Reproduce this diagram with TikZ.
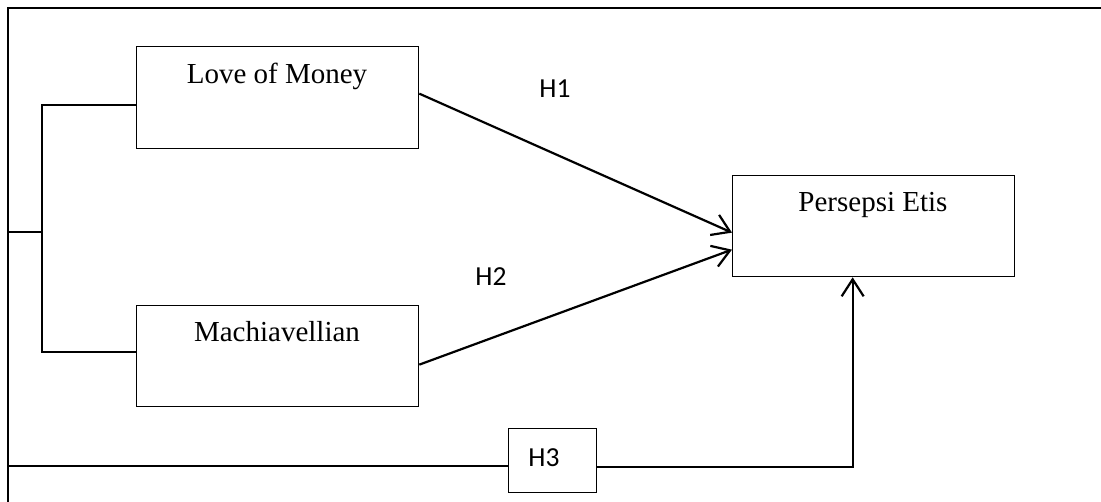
\documentclass[tikz,border=0pt]{standalone}
\usepackage{fontspec}
\setmainfont{Liberation Serif}
\newfontfamily\calib{Carlito}
\usetikzlibrary{arrows.meta,calc}
\begin{document}
\begin{tikzpicture}[x=1pt,y=-1pt,
  box/.style={draw,line width=1.3pt,minimum width=282pt,minimum height=102pt,inner sep=0pt,anchor=north west},
  boxtext/.style={font=\fontsize{29}{30}\selectfont,anchor=base,inner sep=0pt},
  hlabel/.style={font=\calib\fontsize{27.5}{30}\selectfont,anchor=base,inner sep=0pt},
  conn/.style={line width=2.2pt},
  arr/.style={conn,-{Straight Barb[length=17pt,width=22pt,line width=2.2pt]}}
]
\useasboundingbox (0,0) rectangle (1101,502);
% outer frame
\coordinate (tr) at (1101,8);
\coordinate (tl) at (8,8);
\coordinate (bl) at (8,502);
\draw[line width=2.3pt] (tr) -- (tl) -- (bl);
% boxes
\node[box] (lom) at (136,46) {};
\node[box,minimum height=101pt] (mach) at (136,305) {};
\node[box,minimum height=101pt] (pe) at (732,175) {};
\node[draw,line width=1.3pt,minimum width=88pt,minimum height=64pt,inner sep=0pt,anchor=north west] (h3box) at (508,428) {};
% texts
\node[boxtext] (lomt) at (277,84) {Love of Money};
\node[boxtext] (macht) at (277,342) {Machiavellian};
\node[boxtext] (pet) at (873,212) {Persepsi Etis};
\node[hlabel] (h1) at (555,98) {H1};
\node[hlabel] (h2) at (491,286) {H2};
\node[hlabel] (h3) at (544,467) {H3};
% left bracket
\coordinate (lj) at (8,232);
\coordinate (bj) at (42,232);
\draw[conn] ([yshift=-7pt]lom.west) -| (bj) |- ([yshift=4.5pt]mach.west);
\draw[conn] (lj) -- (bj);
% arrows
\draw[arr] ([yshift=4pt]lom.east) -- ([yshift=-6.5pt]pe.west);
\draw[arr] ([yshift=-8.5pt]mach.east) -- ([yshift=-23.5pt]pe.west);
% bottom path
\coordinate (bs) at (8,466);
\draw[conn] (bs) -- (bs -| h3box.west);
\draw[arr] ([yshift=-6pt]h3box.east) -| ([xshift=-21pt]pe.south);
\end{tikzpicture}
\end{document}
